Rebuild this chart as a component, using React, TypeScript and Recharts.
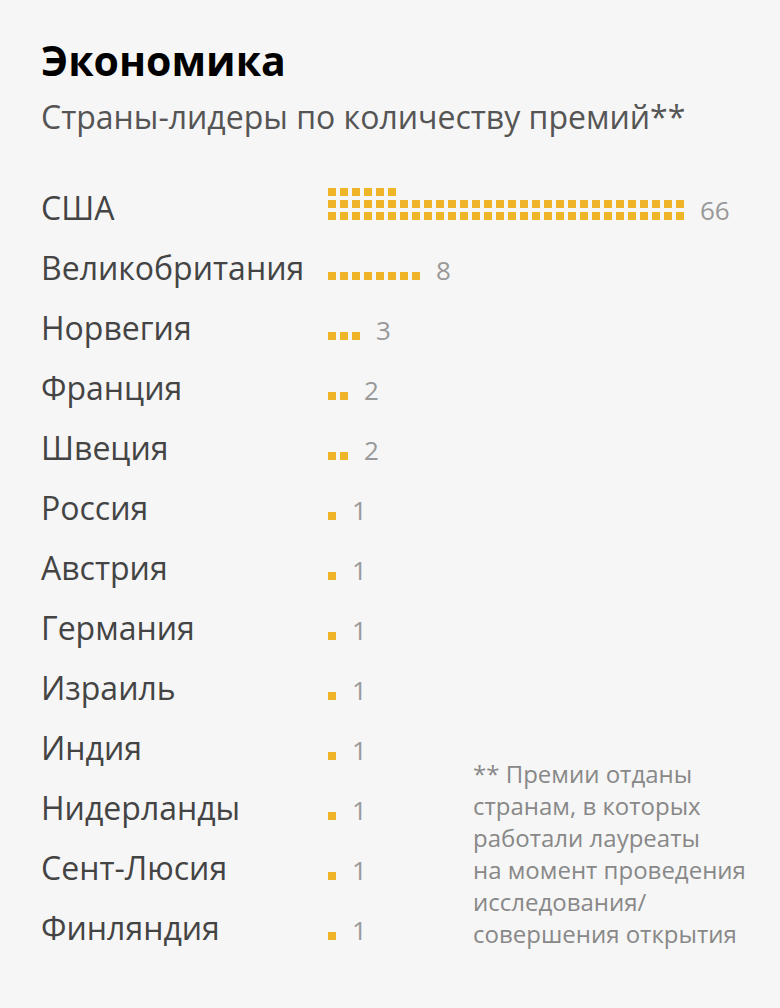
import { BarChart, Bar, XAxis, YAxis, LabelList } from 'recharts';

const countries = [
  'США', 'Великобритания', 'Норвегия', 'Франция', 'Швеция', 'Россия', 'Австрия',
  'Германия', 'Израиль', 'Индия', 'Нидерланды', 'Сент-Люсия', 'Финляндия',
];
const awards = [66, 8, 3, 2, 2, 1, 1, 1, 1, 1, 1, 1, 1];

const title = 'Экономика';
const subtitle = 'Страны-лидеры по количеству премий**';
const footnote = [
  '** Премии отданы',
  'странам, в которых',
  'работали лауреаты',
  'на момент проведения',
  'исследования/',
  'совершения открытия',
];

const PER_ROW = 30;
const GOLD = '#f0b429';
const FONT = '"Open Sans", sans-serif';

const rows = countries.map((country, i) => ({
  country,
  count: awards[i],
  cols: Math.min(awards[i], PER_ROW),
}));

// draws one square per award, wrapping upward every PER_ROW squares
function UnitSquares(props: any) {
  const { x, y, width, height, payload } = props;
  const unit = width / payload.cols;
  const size = unit * (2 / 3);
  const baseTop = y + height / 2 + 2;
  const squares = [];
  for (let i = 0; i < payload.count; i++) {
    const r = Math.floor(i / PER_ROW);
    const c = i % PER_ROW;
    squares.push(
      <rect key={i} x={x + c * unit} y={baseTop - r * unit} width={size} height={size} fill={GOLD} />
    );
  }
  return <g>{squares}</g>;
}

function CountLabel(props: any) {
  const { x, y, width, height, value } = props;
  const unit = width / Math.min(value, PER_ROW);
  return (
    <text x={x + width + unit} y={y + height / 2 + 10} fill="#999" fontSize={26} fontFamily={FONT}>
      {value}
    </text>
  );
}

function CountryTick(props: any) {
  const { y, payload } = props;
  return (
    <text x={41} y={y + 10} fill="#444" fontSize={32} fontFamily={FONT} textAnchor="start">
      {payload.value}
    </text>
  );
}

export default function App() {
  return (
    <div style={{ position: 'absolute', left: 0, top: 0, width: 780, height: 1008, background: '#f6f6f6' }}>
      <svg width={780} height={1008} style={{ position: 'absolute', left: 0, top: 0 }}>
        <text x={41} y={76} fontSize={41} fontWeight={700} fill="#000" fontFamily={FONT}>{title}</text>
        <text x={41} y={129} fontSize={32} fill="#555" fontFamily={FONT}>{subtitle}</text>
        {footnote.map((line, i) => (
          <text key={i} x={473} y={783 + i * 32} fontSize={24} fill="#888" fontFamily={FONT}>{line}</text>
        ))}
      </svg>
      <div style={{ position: 'absolute', left: 0, top: 0 }}>
        <BarChart
          layout="vertical"
          width={780}
          height={1008}
          data={rows}
          margin={{ top: 180, right: 20, bottom: 48, left: 0 }}
          barSize={8}
        >
          <XAxis type="number" domain={[0, 36]} hide />
          <YAxis
            type="category"
            dataKey="country"
            width={328}
            axisLine={false}
            tickLine={false}
            interval={0}
            tick={<CountryTick />}
          />
          <Bar dataKey="cols" shape={<UnitSquares />} isAnimationActive={false}>
            <LabelList dataKey="count" content={<CountLabel />} />
          </Bar>
        </BarChart>
      </div>
    </div>
  );
}
